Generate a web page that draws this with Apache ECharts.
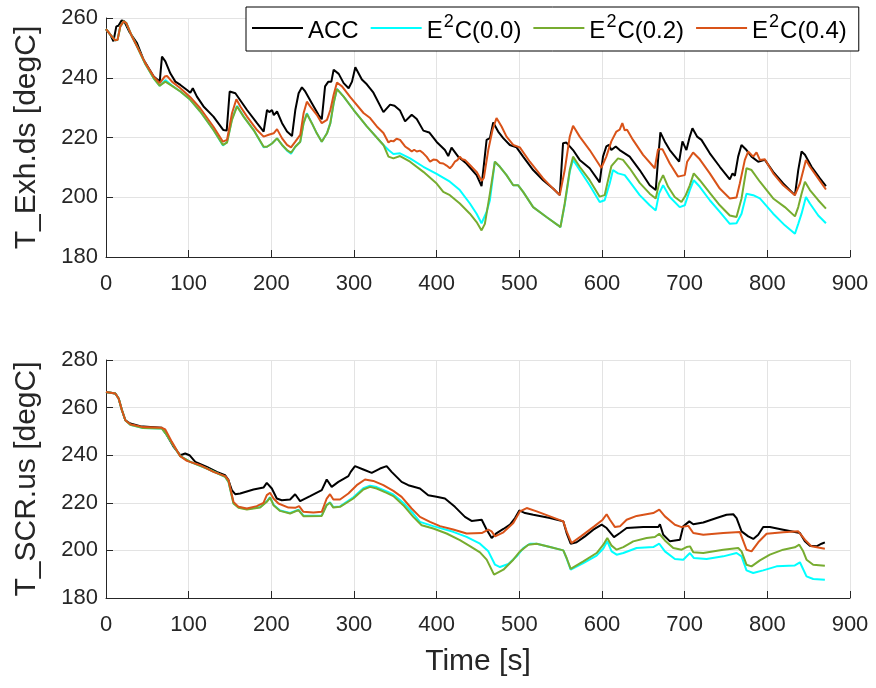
<!DOCTYPE html>
<html>
<head>
<meta charset="utf-8">
<script src="https://cdn.jsdelivr.net/npm/echarts@6/dist/echarts.min.js"></script>
<style>
  html, body { margin: 0; padding: 0; background: #ffffff; }
  #chart { width: 876px; height: 688px; }
</style>
</head>
<body>
<div id="chart"></div>
<script>
// ---- Upper panel: exhaust temperature downstream (T_Exh.ds) ----
const accExhT = [0,5,9,12.5,15,19,22,29,37.5,45.5,57.7,65,67.7,71.8,77.8,83.9,90,98,102,105,110,118,130,142,146,149.6,152,156.5,170.6,182.7,190.7,193,194.8,197.5,200.8,203,206.9,213,219,225,229,233,237,241,249,257,261,265,269,272.6,275.4,277.4,281.5,287.5,293.5,297.6,301.6,309.5,315.5,323.5,335.6,343.7,349,355.7,361.8,369.8,375.9,383.9,391,400,410,414,418,426,436,448.3,454.3,456.3,460.4,464.4,468.4,470.4,474.4,480.5,488.5,496.6,504.6,516.7,528.8,540.8,548.9,552.9,556.9,565,573,585.1,597.2,601.2,605.2,608.5,611.3,616.6,621.4,633.5,645.6,657.7,665,667.8,670.6,675.9,682,693.3,697.3,702.1,706.2,709.4,715,720.3,730.4,742.5,754.6,757.9,760.7,764.7,768.7,774.8,780.9,788.9,797,807.1,819.2,833.4,837.4,841.4,845.5,853.5,863.6,870.9];
const accExhV = [256.3,254.5,252.2,257.2,257.4,259.2,258.9,255,251.6,246,240.4,238.7,247.1,245.5,241.5,238.7,237.6,235.9,235,236.5,233.7,230.4,227,222.5,222.3,235.4,236,234.8,229.2,224.8,222,221.5,229.2,228.5,229.2,227.5,228.7,224.8,222,220.5,229.2,234.8,236.8,235.4,231.5,227.6,226.1,237.1,238.7,238.7,242.7,242.9,241.3,238.2,236.5,238.7,243.5,239.4,237.8,235,228.5,231,230.6,229,225.4,227.6,226.2,222.3,221.7,218.5,215.8,213.8,216.6,213.6,211.3,207.4,203.7,204,219.2,219.8,225,224.4,222,219.8,217.5,216.7,213.6,209.1,205.7,202.9,200.7,218.1,218.3,215.8,212.5,209.7,205,213.6,217,217.5,215.8,217,215.8,213.6,209.1,204,202.4,212.5,221.7,218.7,215.8,211.9,218.7,215.8,220.3,223.1,220.3,219.2,214.7,210.2,206,208,207.2,213.6,217.5,215.8,213.6,211.9,212.5,208.5,204.6,200.7,209.1,215.3,214.2,210.2,206.3,203.7];

const e00ExhT = [0,5,11.3,14,17.3,21.4,24.6,31.5,37.5,47.6,57.7,65,71.8,73.8,79.8,90,102,114,130,141.5,146.4,152.4,158.5,166.5,178.6,190.7,194.8,200.8,206.9,213,219,223.8,229,235,239,243,249,255,261,267.3,271.4,275.4,279.4,287.5,299.6,307.7,315.5,335.6,341.7,347.7,355.7,367.8,383.9,400,416,428,440.2,448.3,454.3,460.4,464.4,470.4,476.5,484.5,492.6,498.6,504.6,516.7,532.8,546.9,549.7,554.9,561,565,573,585.1,597.2,603.2,609.3,613.3,619.4,627.5,633.5,645.6,657.7,665,669,673.9,682,694,700.1,706.2,711,718.3,730.4,742.5,754.6,762.7,768.8,774.8,782.9,791,807.1,821.2,833.4,837.4,841.4,846.7,851.5,861.6,870.9];
const e00ExhV = [256.3,254.5,252.5,252.7,257.2,258.9,258.3,253.8,250.5,244.6,239.8,237.3,239.2,239.3,237.4,235.4,232.6,228.7,222.5,217.3,218.5,226.2,230.6,227,222.5,216.7,216.9,218,219.7,217.5,215.6,214.6,216.9,218.6,224.8,228.1,224.8,221.4,218.6,221.4,224.8,231.5,236.3,233.7,229.2,226.4,223.7,217.5,215.8,214.5,214.7,213,210.2,207.8,205.2,202.4,197.9,194.5,191.3,195.1,199,211.9,210.2,207.4,204,204,201.8,196.7,193.4,190.6,190,197.5,208.5,212.5,209.1,204,198.4,199,204.6,209.1,208,207.4,205.2,200.7,197.3,195.6,201.2,204,200.1,196.7,197.3,202.4,205.7,203.5,199,195.1,191.1,191.3,194.5,201.2,200.7,199.6,194.5,190.6,187.8,191.1,194.5,200.1,197.9,193.9,191.3];

const e02ExhT = [0,5,11.3,14,17.3,21.4,24.6,31.5,37.5,47.6,57.7,65,71.8,73.8,79.8,90,102,114,130,141.5,146.4,152.4,158.5,166.5,178.6,190.7,194.8,200.8,206.9,213,219,223.8,229,235,239,243,249,255,261,267.3,271.4,275.4,279.4,287.5,299.6,307.7,315.5,335.6,341.7,347.7,355.7,367.8,383.9,400,408,416,428,440.2,448.3,454.3,458.3,464.4,470.4,476.5,484.5,492.6,498.6,504.6,516.7,532.8,546.9,549.7,554.9,561,565,573,585.1,597.2,603.2,607.3,611.3,619.4,625.4,633.5,645.6,657.7,665,669,673.9,680,688,696.1,701.3,706.2,711,718.3,730.4,742.5,754.6,762.7,768.8,774.8,780.9,791,807.1,821.2,833.4,837.4,841.4,845.5,851.5,861.6,870.9];
const e02ExhV = [256.3,254.5,252.5,252.7,257.2,258.9,258.3,253.8,250.5,244.6,239.8,237.3,238.7,239.1,237.3,235.4,232.6,228.7,222.5,217.5,218.3,225.9,230.4,227,222.5,216.9,216.9,218,219.7,217.5,215.8,214.9,216.9,218.6,224.8,227.9,224.8,221.4,218.6,221.4,224.8,231.5,236.2,233.7,229.2,226.4,223.7,217.5,213.6,213,213.8,211.9,208.5,204.6,201.8,200.7,197.9,194.5,191.7,188.9,191.1,201.2,211.9,210.2,207.4,204,204,201.8,196.7,193.4,190.6,190,197.9,209.1,213.6,210.2,205.7,200.2,200.7,205.7,210.4,213,212.5,209.7,204.8,201.2,199.6,204.6,207.4,203.5,200.1,198.4,200.7,204,208,205.7,201.5,197.3,193.9,193.4,199.6,209.7,209.1,205.2,199.6,196.7,193.6,196.7,201.2,205.2,202.4,199,196.2];

const e04ExhT = [0,5,11.3,14,17.3,21.4,24.6,31.5,37.5,47.6,57.7,65,71,73.8,79.8,90,102,114,130,141.5,146.4,152.4,157.7,162.5,170.6,182.7,190.7,192.7,196.8,202.8,206.9,213,219,223.8,229,235,239,243,247,255,261,267.3,271.4,275.4,279.4,285.5,295.5,311.5,319.5,327.6,335.6,341.7,344.5,347.7,351.5,355.7,361.8,366,369.8,372.8,375.9,380,383.9,388,392,396,400,404,408,412,416,419,422,425,428,431,434.2,440.2,448.3,454.3,457.1,462.4,467.6,472.4,478.5,484.5,492.6,500.6,512.7,528.8,540.8,548.9,554.9,561,565,573,585.1,599.2,601.2,605.2,611.3,617.4,621.4,624.6,627.5,630.3,637.5,649.7,663.8,667.8,673.1,682,692,700.1,703,710.2,718.3,730.4,742.5,754.6,762.7,766.7,772.8,776.8,782.9,786.9,791,797,807.1,819.2,833.4,839.4,846.7,851.5,863.6,870.9];
const e04ExhV = [256.3,254.5,252.5,252.7,257.2,258.9,258.3,253.8,250.5,244.9,240.4,238.2,240.4,240.6,238.7,236.5,233.5,229.8,223.6,218.6,219.2,228.1,232.8,230.4,227,222.5,220.3,219.7,220.9,221.4,222.8,219.7,217.5,216.7,218.6,220.9,228.1,232,230.4,227.6,224.8,225.9,229.2,234.3,238.4,237.1,233.5,228.2,226.5,223.7,221.5,218.3,218.9,218.7,219.6,219.2,217,216.2,215.3,215.9,215.3,215.6,214.7,213.5,211.9,212.6,212.5,211.5,211.3,210.6,209.7,210.6,211.9,212.4,213.6,212.7,212.5,210.8,208.5,205.5,206.5,215.8,222.6,226.5,223.7,220.3,217.5,216.7,211.9,206.3,202.9,200.7,209.1,220.3,223.9,220.3,215.8,209.8,210,213.6,218.7,222,222.6,224.8,222.4,222.6,219.2,214.2,209.7,216.1,216.1,211.3,206.9,207.4,211.9,215,212.7,208,202.9,199.6,199.9,204.6,212.5,215.3,213.6,215,212.5,212.7,208,204,200.7,204.6,212.5,210.2,205.5,202.6];

// ---- Lower panel: temperature upstream of the SCR (T_SCR.us) ----
const accScrT = [0,11.3,15.3,19.3,23.4,29.4,41.5,53.6,67.7,73.7,81.8,89.8,95.8,101,108,122,134,144,148.2,152.2,156.3,162.3,178.4,190.5,194.5,200.6,206.6,212.6,222.7,228.8,234.8,246.9,261,267,273,281.1,293.2,296,301.2,311.3,321.4,331.5,339.5,345.5,357.6,365.7,379.8,389.8,399.9,410,422.1,434.2,442.2,454.5,460.5,466.5,472.6,480.7,488.7,494.8,500,506.9,516.9,537.1,553.2,557.2,562.1,569.3,579.4,589.5,599.6,605.6,614.5,621.7,629.8,649.9,668.1,670.1,674.1,682.2,694.3,698.3,705.6,710.4,722.5,738.6,750.7,758.8,762.8,768.8,776.9,783,789,795,803.1,819.2,833.3,839.4,845.4,851.5,859.5,865.6,869.6];
const accScrV = [266.6,265.9,263.8,258.9,254.7,253.3,252.2,251.9,251.5,248.4,243.5,240,240.7,240,237.2,235.1,233,231.6,229.5,225.3,223.6,223.9,225.6,226.4,228.4,226,221.8,221.1,221.4,223.6,220.7,222.8,225.3,229.8,226.7,228.8,231.2,233,235.4,234,232.6,234.4,235.4,233,228.8,227.4,226,223.2,222.5,221.8,218.3,214.1,212.4,212.9,208.7,205.2,207.3,209,210.8,213.6,216.8,215.7,215,213.6,212.2,207.3,202.8,203.4,205.9,208.7,210.8,209.4,205.6,207.3,209.4,209.8,209.8,211,206.6,203.8,204.5,210.1,212.2,211,211.7,213.6,215,215.2,213.6,208,205.9,204.8,206.6,209.8,209.8,208.7,207.7,207.3,203.8,202,201.7,202.8,203.4];

const e00ScrT = [0,11.3,15.3,19.3,23.4,29.4,45,67.7,73.7,89.8,102,122,144.2,148.2,154.2,160.3,170.4,186.5,194.5,198.5,202.6,210.6,222.7,232.8,238.8,261,267,271,275,283.1,299.2,311.3,319.4,327.4,339.5,347.6,359.6,371.7,379.8,395.9,420,436.2,452.4,462.5,470.6,476.6,486.7,496.8,504.8,512.9,521,537.1,553.2,557.2,562.1,577.4,593.5,601.6,606.4,611.6,617.7,625.8,641.9,662,669.3,676.1,688.2,698.3,706.4,711.2,726.5,746.7,762.8,768.8,774.8,782.9,795,811.2,833.3,839.4,847.4,855.5,869.6];
const e00ScrV = [266.6,265.9,263.8,258.9,254.7,252.8,251.4,251.2,248.4,239.6,237.2,234.4,230.9,228.8,219.9,218.1,217.4,218.2,220.6,222.4,219.2,216.8,215.7,217.1,214.6,214.7,219.2,220.2,218.2,218.5,222.3,226.1,227.2,226.6,224.8,223.5,220,215.5,212,210.2,207.8,205.7,202.8,199.6,194,193,194.3,197.5,201,202.8,202.8,201.4,200,196.6,191.9,194.7,197.8,200.8,203.8,199.6,198.2,198.9,201,201.4,202.8,199.6,196.4,196.1,198.9,196.8,196.4,197.5,198.9,197.5,191.6,190.5,191.6,193.3,193.7,195,189.1,188,187.7];

const e02ScrT = [0,11.3,15.3,19.3,23.4,29.4,45,67.7,73.7,89.8,102,122,144.2,148.2,154.2,160.3,170.4,186.5,194.5,198.5,202.6,210.6,222.7,232.8,238.8,261,267,271,275,283.1,299.2,311.3,319.4,327.4,339.5,347.6,359.6,371.7,381.8,395.9,412,428.1,440.2,452.4,460.5,469.4,480.7,492.7,500.8,510.9,521,537.1,553.2,557.2,562.1,577.4,593.5,601.6,606.4,611.6,617.7,625.8,637.8,654,664,669.3,676.1,686.2,696.3,702.3,706.4,710.4,722.5,746.7,764.8,768.8,774.8,780.9,791,803.1,819.2,833.3,838.6,843.4,847.4,855.5,869.6];
const e02ScrV = [266.6,265.9,263.8,258.9,254.7,252.8,251.4,251.2,248.4,239.6,237.2,234.4,230.9,228.8,219.7,217.9,217.2,218,220.4,222.2,219,216.6,215.5,216.9,214.4,214.5,219,220,218,218.3,221.8,225.6,226.7,226,224.2,222.8,219,214.1,210.6,209.2,207.1,204.3,201.8,199.2,196.1,189.8,191.9,196.1,199.6,202.4,202.8,201.4,200,196.8,192.2,195.4,198.9,202.4,205.2,202,200.3,201.4,203.8,205.2,205.6,207,204.2,201,200.3,201.4,201.7,199.2,198.9,200.3,201,199.6,194,193.3,195.8,198.2,200.3,201.3,202.4,199.6,196.1,194,193.6];

const e04ScrT = [0,11.3,15.3,19.3,23.4,29.4,45,67.7,71.7,79.7,89.8,97.9,114,130,144.2,148.2,154.2,160.3,170.4,182.4,190.5,194.5,198.5,202.6,208.6,220.7,228.8,233.6,238.8,250.9,261,267,271,275,283.1,293.2,303.3,313.3,323.4,335.5,347.6,357.6,369.7,379.8,391.9,404,420,436.2,454.5,462.5,466.5,470.6,480.7,492.7,500.8,508.9,521,537.1,553.2,557.2,563.2,574.5,590.6,600.8,605.6,609.6,615.7,621.7,629.8,641.9,662,669.3,676.1,688.2,696.3,704.4,710.4,722.5,746.7,766.8,774.8,780.9,789,799.1,819.2,837.4,845.4,853.5,869.6];
const e04ScrV = [266.6,265.9,263.8,258.9,254.7,253,251.8,251.5,250.8,245.6,239.6,237.6,235.8,233,231.2,229.5,220.4,218.3,217.6,218.6,220,223.2,224.2,221.8,219.7,218,217.9,218.6,216.2,215.9,216.2,221.8,223.6,221.4,221.4,223.9,227.4,229.8,229.2,227.4,225,222.5,217.6,214.1,212,210.2,208.8,207.1,207.3,208.7,208,205.9,207.6,211.5,216.4,217.8,216.4,214.3,212.2,208,203.1,205.9,210.1,212.9,215.2,212.9,209.8,210.1,212.9,214.5,215.7,217.1,214.3,210.8,209.8,210.3,207.3,206.6,207.3,207.7,200.3,199.6,203.4,207,207.6,208,204.5,201.7,200.7];

// Axis ranges and ticks
const timeTicks = [0, 900, 100];        // min, max, interval
const exhTicks  = [180, 260, 20];
const scrTicks  = [180, 280, 20];

// Legend entries: plain name, and the base/exponent/tail pieces drawn with a raised "2"
const seriesNames  = ['ACC', 'E2C(0.0)', 'E2C(0.2)', 'E2C(0.4)'];
const legendParts  = [['ACC', '', ''], ['E', '2', 'C(0.0)'], ['E', '2', 'C(0.2)'], ['E', '2', 'C(0.4)']];
const seriesColors = ['#000000', '#00FFFF', '#77AC30', '#D95319'];

const FONT = 'Liberation Sans, Arial, Helvetica, sans-serif';
const AXIS_COLOR = '#262626';
const GRID_COLOR = '#e3e3e3';

function pairs(t, v) { return t.map((x, i) => [x, v[i]]); }

const upper = [pairs(accExhT, accExhV), pairs(e00ExhT, e00ExhV), pairs(e02ExhT, e02ExhV), pairs(e04ExhT, e04ExhV)];
const lower = [pairs(accScrT, accScrV), pairs(e00ScrT, e00ScrV), pairs(e02ScrT, e02ScrV), pairs(e04ScrT, e04ScrV)];

function xAxisFor(gridIndex, name) {
  return {
    type: 'value', gridIndex,
    min: timeTicks[0], max: timeTicks[1], interval: timeTicks[2],
    name: name || '', nameLocation: 'middle', nameGap: 49,
    nameTextStyle: { fontFamily: FONT, fontSize: 30, color: AXIS_COLOR },
    axisLine: { show: true, onZero: false, lineStyle: { color: AXIS_COLOR, width: 1 } },
    axisTick: { show: true, inside: true, length: 7, lineStyle: { color: AXIS_COLOR } },
    axisLabel: { fontFamily: FONT, fontSize: 22, color: AXIS_COLOR, margin: 16 },
    splitLine: { show: true, lineStyle: { color: GRID_COLOR, width: 1 } }
  };
}

function yAxisFor(gridIndex, ticks, name) {
  return {
    type: 'value', gridIndex,
    min: ticks[0], max: ticks[1], interval: ticks[2],
    name, nameLocation: 'middle', nameGap: 64, nameRotate: 90,
    nameTextStyle: { fontFamily: FONT, fontSize: 30, color: AXIS_COLOR },
    axisLine: { show: true, onZero: false, lineStyle: { color: AXIS_COLOR, width: 1 } },
    axisTick: { show: true, inside: true, length: 7, lineStyle: { color: AXIS_COLOR } },
    axisLabel: { fontFamily: FONT, fontSize: 22, color: AXIS_COLOR, margin: 8 },
    splitLine: { show: true, lineStyle: { color: GRID_COLOR, width: 1 } }
  };
}

function lineSeries(data, k, axisIdx) {
  return {
    type: 'line', name: seriesNames[k], data,
    xAxisIndex: axisIdx, yAxisIndex: axisIdx,
    showSymbol: false, symbol: 'none', smooth: false, animation: false,
    lineStyle: { color: seriesColors[k], width: 2 },
    itemStyle: { color: seriesColors[k] },
    z: 2 + k
  };
}

function legendLabel(name) {
  const p = legendParts[seriesNames.indexOf(name)];
  if (!p[1]) return '{n|' + p[0] + '}';
  return '{n|' + p[0] + '}{s|' + p[1] + '}{n|' + p[2] + '}';
}

const chart = echarts.init(document.getElementById('chart'), null, { renderer: 'canvas' });
chart.setOption({
  backgroundColor: '#ffffff',
  animation: false,
  grid: [
    { left: 106, top: 18, width: 744, height: 239 },
    { left: 106, top: 360, width: 744, height: 238 }
  ],
  xAxis: [xAxisFor(0), xAxisFor(1, 'Time [s]')],
  yAxis: [yAxisFor(0, exhTicks, 'T_Exh.ds [degC]'), yAxisFor(1, scrTicks, 'T_SCR.us [degC]')],
  legend: {
    data: seriesNames.map(n => ({ name: n, icon: 'rect' })),
    left: 246, top: 7,
    orient: 'horizontal',
    padding: [6, 12, 8, 6],
    itemGap: 12, itemWidth: 51, itemHeight: 2,
    backgroundColor: '#ffffff',
    borderColor: '#000000', borderWidth: 1, borderRadius: 0,
    formatter: legendLabel,
    textStyle: {
      fontFamily: FONT, color: '#000000',
      rich: {
        n: { fontFamily: FONT, fontSize: 24, color: '#000000', lineHeight: 30, verticalAlign: 'bottom' },
        s: { fontFamily: FONT, fontSize: 18, color: '#000000', lineHeight: 18, verticalAlign: 'top', padding: [0, 1, 0, 1] }
      }
    },
    z: 10
  },
  series: [
    ...upper.map((d, k) => lineSeries(d, k, 0)),
    ...lower.map((d, k) => lineSeries(d, k, 1))
  ]
});
</script>
</body>
</html>
